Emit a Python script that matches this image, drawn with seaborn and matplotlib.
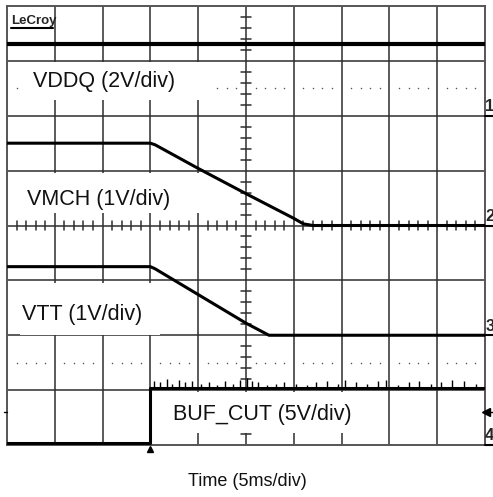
import numpy as np
import pandas as pd
import matplotlib
matplotlib.use("Agg")
import matplotlib.pyplot as plt
import seaborn as sns
from matplotlib.patches import Rectangle

# ---------------- data (time in ms, values in volts) ----------------
T_MIN, T_MAX = -15, 35          # 5 ms/div, 10 divisions, trigger at 0 ms
channels = ["VDDQ", "VMCH", "VTT", "BUF_CUT"]
labels = ["VDDQ (2V/div)", "VMCH (1V/div)", "VTT (1V/div)", "BUF_CUT (5V/div)"]
ground_div = [6, 4, 2, 0]       # ground marker position (divisions from bottom)
volts_per_div = [2, 1, 1, 5]
marker_names = ["1", "2", "3", "4"]

vddq_t = [-15, 35]
vddq_v = [2.6, 2.6]
vmch_t = [-15, 0, 0.5, 5, 10, 15, 16, 17, 35]
vmch_v = [1.5, 1.5, 1.47, 1.04, 0.58, 0.13, 0.03, 0.0, 0.0]
vtt_t = [-15, 0, 0.5, 10, 12.4, 35]
vtt_v = [1.25, 1.25, 1.21, 0.22, 0.0, 0.0]
buf_t = [-15, 0, 0, 35]
buf_v = [0.15, 0.15, 5.2, 5.2]

# noise spikes seen on BUF_CUT high level (ms, volts above level)
buf_spike_t = [0.4, 1.0, 1.7, 2.3, 3.0, 3.6, 4.4, 5.3, 6.1, 7.0, 7.8, 8.6, 9.4, 10.1,
               10.6, 11.3, 12.2, 13.1, 14.0, 15.2, 16.4, 17.3, 18.5, 19.6, 20.4,
               21.5, 22.7, 23.8, 24.6, 25.9, 27.0, 28.1, 29.3, 30.4, 31.6, 32.8, 34.1]
buf_spike_v = [0.6, 0.5, 0.8, 0.4, 0.7, 0.5, 0.6, 0.4, 0.5, 0.3, 0.6, 0.4, 0.7, 0.9,
               0.6, 0.5, 0.3, 0.4, 0.5, 0.4, 0.3, 0.5, 0.6, 0.4, 0.7, 0.5, 0.4, 0.6,
               0.7, 0.3, 0.5, 0.6, 0.4, 0.5, 0.7, 0.6, 0.4]
trig_level_div = 0.6

series_t = [vddq_t, vmch_t, vtt_t, buf_t]
series_v = [vddq_v, vmch_v, vtt_v, buf_v]

# ---------------- figure ----------------
sns.set_theme(style="white")
plt.rcParams["font.family"] = ["Liberation Sans", "DejaVu Sans"]

W, H = 493, 497
fig = plt.figure(figsize=(W / 100, H / 100), dpi=100)
ax = fig.add_axes([7 / W, 1 - 445 / H, 478 / W, 439 / H])
ax.set_xlim(T_MIN, T_MAX)
ax.set_ylim(0, 8)
ax.set_xticks([])
ax.set_yticks([])
for s in ax.spines.values():
    s.set_color("#555555")
    s.set_linewidth(1.4)

def px2t(x):
    return T_MIN + (x - 7) / 478 * (T_MAX - T_MIN)

def px2d(y):
    return (445 - y) / (439 / 8)

grid_c = "#2e2e2e"
for t in range(-10, 35, 5):
    ax.axvline(t, color=grid_c, lw=1.1, zorder=1)
for d in range(1, 8):
    ax.axhline(d, color=grid_c, lw=1.1, zorder=1)

# centre cross minor ticks
tc, dc = 10, 4
for d in np.arange(0.2, 8, 0.2):
    if abs(d - round(d)) > 1e-6:
        ax.plot([tc - 0.5, tc + 0.5], [d, d], color=grid_c, lw=1.1, zorder=1)
for t in range(T_MIN + 1, T_MAX):
    if t % 5 != 0:
        ax.plot([t, t], [dc - 0.075, dc + 0.075], color=grid_c, lw=1.1, zorder=1)

# dotted rows
dot_t = [t for t in range(T_MIN + 1, T_MAX) if t % 5 != 0]
for d in (6.5, 1.5):
    ax.scatter(dot_t, [d] * len(dot_t), s=1.2, color="#555555", zorder=1, linewidths=0)

# white label boxes (hide grid under the labels)
boxes = [(24, 212, 62, 100), (24, 225, 173, 213), (20, 160, 283, 335), (157, 355, 392, 433)]
for x0, x1, y0, y1 in boxes:
    ax.add_patch(Rectangle((px2t(x0), px2d(y1)), px2t(x1) - px2t(x0), px2d(y0) - px2d(y1),
                           facecolor="white", edgecolor="none", zorder=2))

# traces
lws = [3.0, 2.2, 2.2, 2.2]
for name, t, v, g, s, lw in zip(channels, series_t, series_v, ground_div, volts_per_div, lws):
    df = pd.DataFrame({"t": t, "div": [g + val / s for val in v]})
    sns.lineplot(data=df, x="t", y="div", sort=False, estimator=None, color="black",
                 lw=lw, ax=ax, zorder=5)

# BUF_CUT noise spikes
base = ground_div[3] + buf_v[-1] / volts_per_div[3]
ax.vlines(buf_spike_t, base, [base + h / volts_per_div[3] for h in buf_spike_v],
          color="black", lw=1.0, zorder=5)
ax.set_xlabel("")
ax.set_ylabel("")

# channel labels
label_pos = [(33, 87), (27, 205), (22, 320), (173, 420)]
for lab, (x, y) in zip(labels, label_pos):
    ax.text(px2t(x), px2d(y), lab, fontsize=15.5, color="#111111", va="baseline",
            ha="left", zorder=6)

# channel ground markers on the right
dt_px = (T_MAX - T_MIN) / 478
for m, g in zip(marker_names, ground_div):
    ax.plot([T_MAX, T_MAX + 9 * dt_px], [g, g], color="black", lw=1.5, clip_on=False, zorder=6)
    ax.text(T_MAX + 0.2 * dt_px, g + 0.03, m, fontsize=12, fontweight="bold",
            va="bottom", ha="left", clip_on=False, zorder=6)

# trigger level arrow (right) and tick (left)
ax.plot([T_MAX + 1 * dt_px], [trig_level_div], marker="<", color="black", ms=6,
        clip_on=False, zorder=6)
ax.plot([T_MAX, T_MAX + 8 * dt_px], [trig_level_div] * 2, color="black", lw=1,
        clip_on=False, zorder=6)
ax.plot([T_MIN - 3 * dt_px, T_MIN], [trig_level_div] * 2, color="black", lw=1,
        clip_on=False, zorder=6)
# trigger position marker
ax.plot([0], [-0.08], marker="^", color="black", ms=5, clip_on=False, zorder=6)

# LeCroy logo
ax.text(px2t(11), px2d(24), "LeCroy", fontsize=9.5, fontweight="bold",
        va="baseline", ha="left", zorder=6)
ax.plot([px2t(11), px2t(53)], [px2d(28), px2d(28)], color="black", lw=1.5, zorder=6)

fig.text(247 / W, 1 - 482 / H, "Time (5ms/div)", ha="center", va="center",
         fontsize=13, color="#111111")

fig.savefig("out.png", dpi=100)
